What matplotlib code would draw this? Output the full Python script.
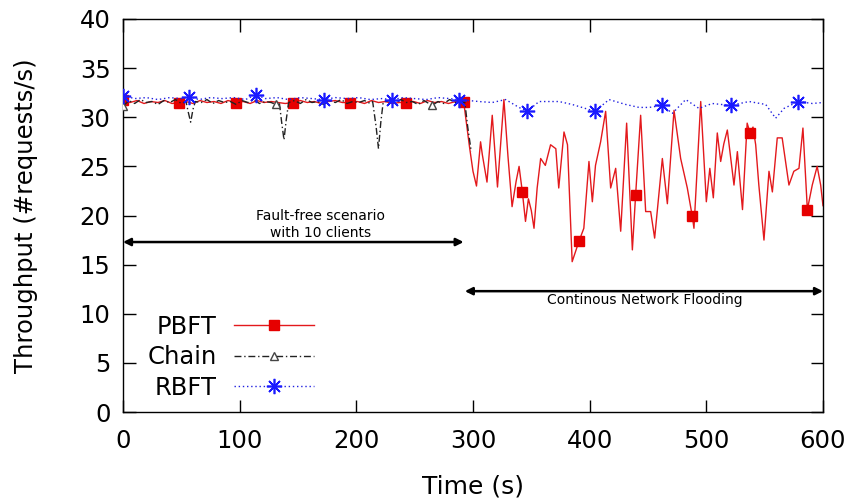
"""
Throughput of PBFT / Chain / RBFT, fault-free then under network flooding.
"""

import numpy as np
import matplotlib
matplotlib.use("Agg")
import matplotlib.pyplot as plt

# ---------------------------------------------------------------------------
# Data
# ---------------------------------------------------------------------------
pbft_t = [0, 6, 12, 18, 24, 30, 36, 42, 48, 54, 60, 66, 72, 78, 84, 90, 97,
          103, 109, 115, 121, 127, 133, 139, 146, 152, 158, 164, 170, 176, 182,
          188, 195, 201, 207, 213, 219, 225, 231, 237, 243, 249, 255, 261, 267,
          273, 279, 285, 292,
          297, 300, 303, 306.5, 308, 312, 316.5, 321, 326.5, 330, 333.5, 337,
          339.5, 342.3, 345, 347.5, 350, 352.3, 355, 358, 362, 366.5, 371,
          373.5, 378, 381, 385, 390.9, 395, 399.4, 402.3, 405, 409.4, 413.7,
          418, 422.3, 426.6, 431.7, 436.6, 439.4, 443.7, 448, 452.3, 455.7,
          462.3, 466.6, 472.3, 478, 483.7, 488, 489.4, 495.2, 500, 503, 506,
          509.4, 512.3, 515, 518, 523.7, 526.6, 531, 535, 537.5, 540, 542.3,
          545, 549.4, 553.7, 556.6, 560.8, 565, 570.8, 575, 579.4, 582.8,
          586.6, 590.8, 595, 598, 600]
pbft_v = [31.8, 31.5, 31.7, 31.4, 31.6, 31.5, 31.7, 31.4, 31.5, 31.6, 31.4,
          31.7, 31.5, 31.6, 31.4, 31.7, 31.5, 31.6, 31.4, 31.7, 31.5, 31.6,
          31.5, 31.4, 31.5, 31.7, 31.5, 31.6, 31.4, 31.6, 31.7, 31.5, 31.5,
          31.6, 31.4, 31.7, 31.5, 31.6, 31.4, 31.5, 31.5, 31.6, 31.4, 31.7,
          31.5, 31.6, 31.4, 31.6, 31.6,
          27.0, 24.5, 23.0, 27.5, 26.2, 23.4, 30.2, 22.9, 31.8, 26.0, 20.9,
          23.5, 25.0, 22.4, 19.4, 21.7, 20.5, 18.7, 22.8, 25.8, 25.1, 27.2,
          26.8, 22.8, 28.5, 27.2, 15.3, 17.4, 18.7, 25.5, 21.4, 25.1, 27.5,
          30.6, 22.8, 24.8, 18.4, 29.4, 16.5, 22.1, 30.2, 20.4, 20.4, 17.7,
          25.8, 21.2, 30.7, 25.8, 22.8, 19.9, 18.7, 31.6, 21.4, 24.8, 21.8,
          28.4, 25.5, 27.3, 28.7, 23.1, 26.5, 20.6, 29.4, 28.4, 29.0, 27.2,
          23.1, 17.5, 24.5, 22.4, 27.9, 27.9, 23.1, 24.5, 24.8, 28.9,
          20.6, 23.1, 25.0, 23.1, 21.0]
pbft_marks = [0, 48, 97, 146, 195, 243, 292, 342.3, 390.9, 439.4, 488, 537.5,
              586.6]

chain_t = [0, 5, 10, 15, 20, 25, 30, 35, 40, 45, 50, 54, 56, 58, 60, 62, 67,
           72, 77, 82, 87, 92, 97, 102, 107, 112, 117, 122, 127, 131, 134, 136,
           138, 140, 142, 147, 152, 157, 162, 167, 172, 177, 182, 187, 192,
           197, 202, 207, 212, 214, 217, 219, 221, 223, 228, 233, 238, 243,
           248, 253, 258, 265, 270, 275, 280, 285, 290, 293, 295.5, 298.5]
chain_v = [31.1, 31.7, 31.4, 31.8, 31.5, 31.6, 31.3, 31.7, 31.5, 31.8, 31.4,
           31.6, 30.5, 29.5, 30.8, 31.6, 31.5, 31.8, 31.4, 31.7, 31.5, 31.6,
           31.3, 31.7, 31.5, 31.8, 31.4, 31.6, 31.5, 31.3, 31.5, 29.5, 27.7,
           29.8, 31.5, 31.7, 31.4, 31.8, 31.5, 31.6, 31.3, 31.7, 31.5, 31.8,
           31.4, 31.6, 31.5, 31.7, 31.4, 31.6, 29.0, 26.8, 29.5, 31.5, 31.7,
           31.4, 31.8, 31.5, 31.6, 31.3, 31.7, 31.2, 31.6, 31.4, 31.8, 31.5,
           31.6, 31.5, 29.0, 26.5]
chain_marks = [0, 131, 265]

rbft_t = [0, 10, 20, 30, 40, 50, 57, 65, 75, 85, 95, 105, 114, 122, 132, 142,
          152, 162, 172, 182, 192, 202, 212, 222, 231, 240, 250, 260, 270,
          280, 288, 305, 316.5, 328, 339.4, 346.6, 356.6, 373.7, 385, 404.6,
          416.6, 430.9, 442.3, 451, 462, 470.9, 482.3, 493.7, 505, 520.8,
          536.6, 550.9, 559.4, 566.6, 578.8, 590.8, 600]
rbft_v = [32.2, 31.9, 32.0, 31.8, 32.0, 31.9, 32.1, 31.8, 32.0, 31.9, 32.0,
          31.8, 32.3, 31.9, 32.0, 31.8, 32.0, 31.9, 31.8, 32.0, 31.9, 32.0,
          31.8, 31.9, 31.8, 32.0, 31.9, 31.8, 32.0, 31.9, 31.8, 31.6, 31.5,
          31.8, 31.0, 30.6, 31.6, 31.6, 31.3, 30.6, 31.8, 31.3, 31.0, 31.0,
          31.2, 30.4, 31.8, 30.9, 31.4, 31.2, 31.6, 31.3, 29.9, 30.9, 31.6,
          31.4, 31.5]
rbft_marks = [0, 57, 114, 172, 231, 288, 346.6, 404.6, 462, 520.8, 578.8]

# ---------------------------------------------------------------------------
# Figure
# ---------------------------------------------------------------------------
plt.rcParams["font.family"] = ["DejaVu Sans"]
fig = plt.figure(figsize=(8.54, 5.01), dpi=100)
ax = fig.add_axes([0.144, 0.1776, 0.8197, 0.7845])


def mask(t, marks):
    return list(np.nonzero(np.isin(t, marks))[0])


ax.plot(pbft_t, pbft_v, color="#e3191c", lw=1.0, marker="s", ms=7,
        mfc="#e60000", mec="#e60000", markevery=mask(pbft_t, pbft_marks),
        label="PBFT", zorder=2)
ax.plot(chain_t, chain_v, color="#222222", lw=1.0, ls=(0, (5, 2, 1, 2)),
        marker="^", ms=6, mfc="white", mec="#444444", mew=1.0,
        markevery=mask(chain_t, chain_marks), label="Chain", zorder=3)
ax.plot(rbft_t, rbft_v, color="#2020e0", lw=1.0, ls=(0, (1, 2)),
        marker=(8, 2, 0), ms=11, mec="#1a1aff", mew=1.2,
        markevery=mask(rbft_t, rbft_marks), label="RBFT", zorder=4)

# annotations
arrow = dict(arrowstyle="<|-|>", color="black", lw=1.8, mutation_scale=11,
             shrinkA=0, shrinkB=0)
ax.annotate("", xy=(0, 17.3), xytext=(292, 17.3), arrowprops=arrow)
ax.text(169, 19.1, "Fault-free scenario\nwith 10 clients", ha="center",
        va="center", fontsize=10, linespacing=1.3)
ax.annotate("", xy=(293, 12.3), xytext=(600, 12.3), arrowprops=arrow)
ax.text(447, 11.4, "Continous Network Flooding", ha="center", va="center",
        fontsize=10)

ax.set_xlim(0, 600)
ax.set_ylim(0, 40)
ax.set_xticks(range(0, 601, 100))
ax.set_yticks(range(0, 41, 5))
ax.tick_params(direction="in", top=True, right=True, length=9, width=1,
               labelsize=17.5)
ax.tick_params(axis="x", pad=12)
ax.tick_params(axis="y", pad=9)
for s in ax.spines.values():
    s.set_linewidth(1.0)

ax.set_xlabel("Time (s)", fontsize=18, labelpad=16)
ax.set_ylabel("Throughput (#requests/s)", fontsize=17.5, labelpad=30)

ax.legend(loc="upper left", bbox_to_anchor=(0.035, 0.247), frameon=False,
          markerfirst=False, fontsize=17.5, handlelength=3.3,
          handletextpad=0.7, labelspacing=0.26, borderpad=0,
          borderaxespad=0, numpoints=1)

fig.savefig("out.png", dpi=100)
plt.close(fig)
